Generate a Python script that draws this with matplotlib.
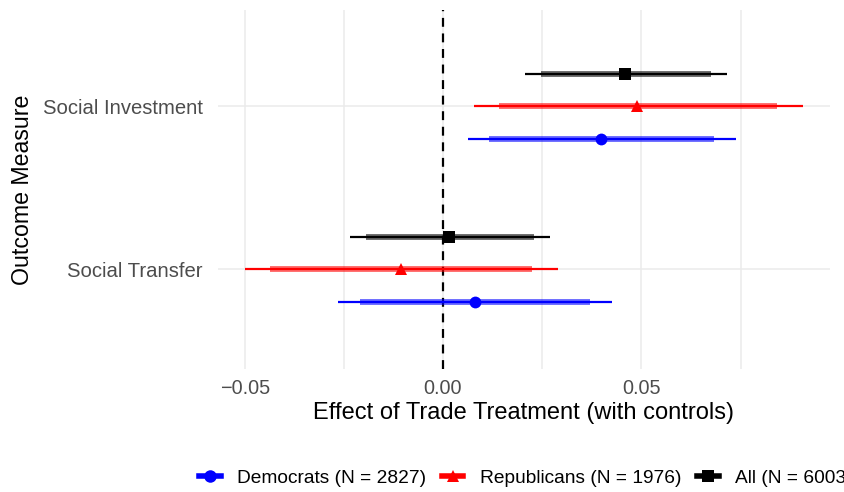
import numpy as np
import matplotlib.pyplot as plt
from matplotlib.lines import Line2D

plt.rcParams['font.family'] = ['Liberation Sans', 'DejaVu Sans']

#%% data
outcomes = ['Social Transfer', 'Social Investment']
groups = ['Democrats (N = 2827)', 'Republicans (N = 1976)', 'All (N = 6003']
colors = ['#0000FF', '#FF0000', '#000000']
markers = ['o', '^', 's']

# rows: outcome (Transfer, Investment), cols: group (Dem, Rep, All)
est = np.array([[0.0080, -0.0107, 0.0016],
                [0.0398, 0.0490, 0.0459]])
lo95 = np.array([[-0.0265, -0.0500, -0.0235],
                 [0.0062, 0.0077, 0.0207]])
hi95 = np.array([[0.0425, 0.0289, 0.0270],
                 [0.0738, 0.0907, 0.0716]])
lo90 = np.array([[-0.0210, -0.0436, -0.0195],
                 [0.0115, 0.0142, 0.0248]])
hi90 = np.array([[0.0371, 0.0225, 0.0230],
                 [0.0682, 0.0841, 0.0675]])

offsets = [-0.2, 0.0, 0.2]

#%% plot
fig = plt.figure(figsize=(8.45, 4.92), dpi=100)
ax = fig.add_axes([0.258, 0.25, 0.724, 0.73])

for i in range(len(outcomes)):
    for j in range(len(groups)):
        y = i + 1 + offsets[j]
        ax.plot([lo95[i, j], hi95[i, j]], [y, y], color=colors[j], lw=1.6,
                solid_capstyle='butt', zorder=3)
        ax.plot([lo90[i, j], hi90[i, j]], [y, y], color=colors[j], lw=4.2,
                alpha=0.6, solid_capstyle='butt', zorder=3)
        ax.plot(est[i, j], y, marker=markers[j], color=colors[j], ms=8.5,
                mew=0, zorder=4)

ax.axvline(0, color='black', ls=(0, (4, 3)), lw=1.6, zorder=2)

ax.set_xlim(-0.0567, 0.0975)
ax.set_ylim(0.39, 2.59)
ax.set_xticks([-0.05, 0.0, 0.05])
ax.set_xticklabels(['\u22120.05', '0.00', '0.05'])
ax.set_xticks([-0.025, 0.025, 0.075], minor=True)
ax.set_yticks([1, 2])
ax.set_yticklabels(outcomes)

ax.grid(True, which='major', color='#EBEBEB', lw=1.1, zorder=0)
ax.grid(True, which='minor', axis='x', color='#EBEBEB', lw=1.1, zorder=0)
ax.set_axisbelow(True)
for s in ax.spines.values():
    s.set_visible(False)
ax.tick_params(which='both', length=0)
ax.tick_params(axis='x', labelsize=14.3, labelcolor='#4D4D4D', pad=7)
ax.tick_params(axis='y', labelsize=14.6, labelcolor='#4D4D4D', pad=11)

ax.set_xlabel('Effect of Trade Treatment (with controls)', fontsize=17, labelpad=3)
ax.set_ylabel('Outcome Measure', fontsize=16.7, labelpad=6)

handles = [Line2D([], [], color=c, marker=m, lw=4, ms=9, mew=0)
           for c, m in zip(colors, markers)]
fig.legend(handles, groups, loc='center left', bbox_to_anchor=(0.227, 0.028),
           ncol=3, frameon=False, fontsize=13.8, handlelength=1.1,
           handletextpad=0.85, columnspacing=0.85, borderaxespad=0)

fig.savefig('out.png', dpi=100)
